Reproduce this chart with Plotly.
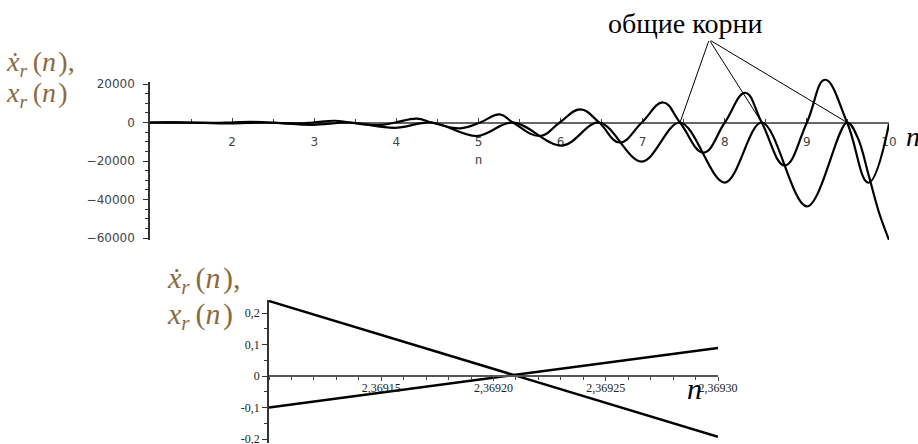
import plotly.graph_objects as go

# ---------------- data ----------------
# top chart: derivative-like curve (oscillating about 0)
n_dx = [1.00, 1.25, 1.43, 1.78, 1.99, 2.25, 2.43, 2.78, 2.99, 3.25, 3.43, 3.78, 3.99,
        4.25, 4.43, 4.78, 5.02, 5.26, 5.42, 5.75, 5.99, 6.24, 6.47, 6.72, 6.99,
        7.25, 7.455, 7.74, 8.00, 8.25, 8.45, 8.73, 9.00, 9.22, 9.49, 9.75, 10.00]
dx_vals = [0, 100, 0, -200, 0, 300, 0, -500, 0, 900, 0, -1400, 0,
           2000, 0, -3000, 0, 4200, 0, -7000, 0, 6800, 0, -10400, 0,
           10400, 0, -15600, 0, 15400, 0, -22300, 0, 22200, 0, -31300, -800]

# top chart: non-positive curve touching zero at the common roots
n_x = [1.00, 1.43, 1.97, 2.43, 2.98, 3.43, 3.98, 4.43, 4.98, 5.42, 6.02, 6.47,
       6.99, 7.455, 8.00, 8.45, 9.00, 9.49, 9.62, 9.75, 9.88, 10.00]
x_vals = [0, 0, -500, 0, -1200, 0, -2800, 0, -7000, 0, -12000, 0,
          -20300, 0, -31200, 0, -43600, 0, -8000, -27000, -47000, -61000]

common_roots = [7.455, 8.45, 9.49]
top_x_ticks = [1, 2, 3, 4, 5, 6, 7, 8, 9, 10]
top_x_labels = ["", "2", "3", "4", "5", "6", "7", "8", "9", "10"]
top_y_ticks = [-60000, -40000, -20000, 0, 20000]

# bottom chart: zoom near the root
n_zoom = [2.36910, 2.36930]
line_a = [0.238, -0.193]
line_b = [-0.100, 0.089]
bot_x_ticks = [2.36915, 2.36920, 2.36925, 2.36930]
bot_x_labels = ["2,36915", "2,36920", "2,36925", "2,36930"]
bot_y_ticks = [-0.2, -0.1, 0, 0.1, 0.2]
bot_y_labels = ["-0,2", "-0,1", "0", "0,1", "0,2"]

# ---------------- figure ----------------
W, H = 918, 444
def px(x):
    return x / W
def py(y):
    return 1 - y / H

# vertical layout of the top panel (pixels)
t_top, t_bot = 82, 240
t_range = [-61040, 21040]
scale = (t_bot - t_top) / (t_range[1] - t_range[0])
curve_top = 66
curve_range = [t_range[0], t_range[1] + (t_top - curve_top) / scale]

b_top, b_bot = 300, 443
b_range = [-0.2127, 0.2413]

fig = go.Figure()
fig.add_trace(go.Scatter(x=n_dx, y=dx_vals, mode="lines", xaxis="x", yaxis="y3",
                         line=dict(color="black", width=2.2, shape="spline", smoothing=1.2),
                         showlegend=False, hoverinfo="skip"))
fig.add_trace(go.Scatter(x=n_x, y=x_vals, mode="lines", xaxis="x", yaxis="y3",
                         line=dict(color="black", width=2.2, shape="spline", smoothing=1.0),
                         showlegend=False, hoverinfo="skip"))
fig.add_trace(go.Scatter(x=n_zoom, y=line_a, mode="lines", xaxis="x2", yaxis="y2",
                         line=dict(color="black", width=2.5), showlegend=False, hoverinfo="skip"))
fig.add_trace(go.Scatter(x=n_zoom, y=line_b, mode="lines", xaxis="x2", yaxis="y2",
                         line=dict(color="black", width=2.5), showlegend=False, hoverinfo="skip"))

top_font = dict(family="DejaVu Sans", size=12, color="#444")
bot_font = dict(family="Liberation Serif", size=12, color="#222")

zero_top = py(t_bot) + (0 - t_range[0]) / (t_range[1] - t_range[0]) * (py(t_top) - py(t_bot))
zero_bot = py(b_bot) + (0 - b_range[0]) / (b_range[1] - b_range[0]) * (py(b_top) - py(b_bot))

fig.update_layout(
    width=W, height=H, margin=dict(l=0, r=0, t=0, b=0, autoexpand=False),
    paper_bgcolor="white", plot_bgcolor="rgba(0,0,0,0)",
    xaxis=dict(domain=[px(150), px(889)], range=[1, 10], anchor="free", position=zero_top,
               automargin=False, layer="above traces",
               showgrid=False, zeroline=False, showline=True, linecolor="#666", linewidth=2,
               tickvals=top_x_ticks, ticktext=top_x_labels, ticks="inside", ticklen=4,
               tickcolor="#444", tickfont=top_font, ticklabelstandoff=8,
               ticklabeloverflow="allow",
               minor=dict(tickmode="linear", tick0=1, dtick=0.5, ticks="inside", ticklen=3,
                          tickcolor="#444")),
    yaxis=dict(domain=[py(t_bot), py(t_top)], range=t_range, anchor="x", automargin=False,
               showgrid=False, zeroline=False, showline=True, linecolor="#333", linewidth=1.5,
               tickvals=top_y_ticks, tickformat="d", ticks="outside", ticklen=5,
               tickcolor="#333", tickfont=top_font, ticklabelstandoff=6,
               ticklabeloverflow="allow",
               minor=dict(tickmode="linear", tick0=0, dtick=5000, ticks="outside", ticklen=3,
                          tickcolor="#333")),
    yaxis3=dict(domain=[py(t_bot), py(curve_top)], range=curve_range, anchor="x",
                visible=False, automargin=False, showgrid=False, zeroline=False),
    xaxis2=dict(domain=[px(269), px(718)], range=[n_zoom[0], n_zoom[1]], anchor="free",
                position=zero_bot, automargin=False,
                showgrid=False, zeroline=False, showline=True, linecolor="#555", linewidth=1.5,
                tickvals=bot_x_ticks, ticktext=bot_x_labels, ticks="outside", ticklen=4,
                tickcolor="#444", tickfont=bot_font, ticklabelstandoff=-3,
                ticklabeloverflow="allow",
                minor=dict(tickmode="linear", tick0=n_zoom[0], dtick=0.00001, ticks="outside",
                           ticklen=3, tickcolor="#444")),
    yaxis2=dict(domain=[py(b_bot), py(b_top)], range=b_range, anchor="x2", automargin=False,
                showgrid=False, zeroline=False, showline=True, linecolor="#333", linewidth=1.5,
                tickvals=bot_y_ticks, ticktext=bot_y_labels, ticks="outside", ticklen=5,
                tickcolor="#333", tickfont=bot_font, ticklabelstandoff=0,
                ticklabeloverflow="allow",
                minor=dict(tickmode="linear", tick0=0, dtick=0.05, ticks="outside", ticklen=3,
                           tickcolor="#333")),
)

label_color = "#8B6A40"
row1 = "<i>ẋ</i><sub><i>r</i></sub>\u2009(<i>n</i>\u200a),"
row2 = "<i>x</i><sub><i>r</i></sub>\u2009(<i>n</i>\u200a)"
label_font_top = dict(family="Liberation Serif", size=28, color=label_color)
label_font_bot = dict(family="Liberation Serif", size=30, color=label_color)
annotations = [
    dict(text=row1, xref="paper", yref="paper", x=px(4), y=py(63),
         xanchor="left", yanchor="middle", showarrow=False, font=label_font_top),
    dict(text=row2, xref="paper", yref="paper", x=px(4), y=py(94),
         xanchor="left", yanchor="middle", showarrow=False, font=label_font_top),
    dict(text=row1, xref="paper", yref="paper", x=px(165), y=py(280),
         xanchor="left", yanchor="middle", showarrow=False, font=label_font_bot),
    dict(text=row2, xref="paper", yref="paper", x=px(165), y=py(316),
         xanchor="left", yanchor="middle", showarrow=False, font=label_font_bot),
    dict(text="общие корни", xref="paper", yref="paper", x=px(685), y=py(23),
         xanchor="center", yanchor="middle", showarrow=False,
         font=dict(family="Liberation Serif", size=28, color="black")),
    dict(text="n", xref="paper", yref="paper", x=px(478), y=py(161),
         xanchor="center", yanchor="middle", showarrow=False,
         font=dict(family="Liberation Mono", size=12, color="#333")),
    dict(text="<i>n</i>", xref="paper", yref="paper", x=px(904), y=py(136),
         xanchor="left", yanchor="middle", showarrow=False,
         font=dict(family="Liberation Serif", size=28, color="black")),
    dict(text="<i>n</i>", xref="paper", yref="paper", x=px(694), y=py(388),
         xanchor="center", yanchor="middle", showarrow=False,
         font=dict(family="Liberation Serif", size=30, color="black")),
]
apex_n, apex_v = 7.81, 43000
for r in common_roots:
    annotations.append(dict(text="", x=r, y=0, xref="x", yref="y",
                            ax=apex_n, ay=apex_v, axref="x", ayref="y",
                            showarrow=True, arrowhead=0, arrowwidth=1, arrowcolor="black",
                            standoff=0, startstandoff=0))
fig.update_layout(annotations=annotations)

fig.write_html("out.html", config={"displayModeBar": False},
               post_script="document.body.style.margin='0px';")
